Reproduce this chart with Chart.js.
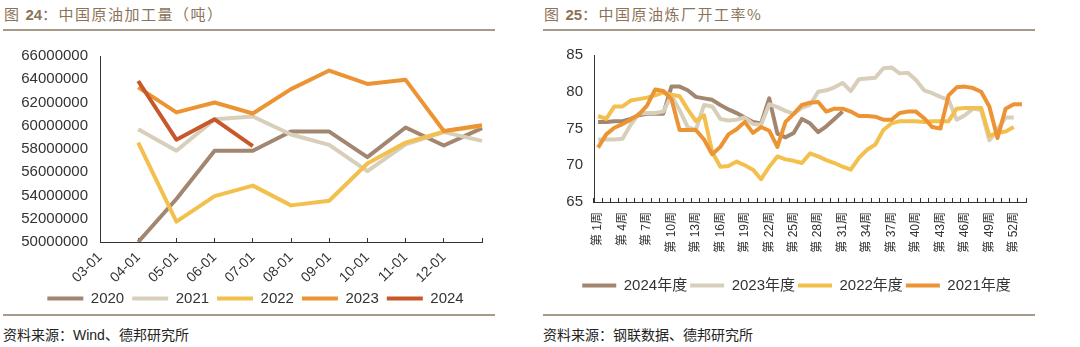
<!DOCTYPE html>
<html>
<head>
<meta charset="utf-8">
<script src="https://cdn.jsdelivr.net/npm/chart.js@4.4.1/dist/chart.umd.min.js"></script>
<style>
  body { margin: 0; background: #fff; width: 1080px; height: 347px; overflow: hidden; position: relative;
         font-family: 'Liberation Sans', 'Noto Sans CJK SC', sans-serif; }
  .title { position: absolute; top: 3px; font-size: 15px; color: #8c7358; letter-spacing: 1.5px;
           font-family: 'Noto Sans CJK SC', sans-serif; white-space: nowrap; }
  .title b { font-family: 'Liberation Sans', sans-serif; font-weight: bold; letter-spacing: 0; }
  .rule { position: absolute; height: 2px; background: #a89a8a; }
  .src { position: absolute; top: 324px; font-size: 14px; color: #222; white-space: nowrap;
         font-family: 'Liberation Sans', 'Noto Sans CJK SC', sans-serif; }
  canvas { position: absolute; }
</style>
</head>
<body>
<div class="title" style="left:4px">图 <b>24</b>：中国原油加工量（吨）</div>
<div class="rule" style="left:3px;width:492px;top:29px"></div>
<canvas id="outputChart" width="511" height="281" style="left:0;top:35px"></canvas>
<div class="rule" style="left:3px;width:492px;top:314px"></div>
<div class="src" style="left:3px">资料来源：Wind、德邦研究所</div>

<div class="title" style="left:544px">图 <b>25</b>：中国原油炼厂开工率%</div>
<div class="rule" style="left:543px;width:492px;top:29px"></div>
<canvas id="rateChart" width="513" height="268" style="left:540px;top:35px"></canvas>
<div class="rule" style="left:543px;width:492px;top:314px"></div>
<div class="src" style="left:543px">资料来源：钢联数据、德邦研究所</div>

<script>
// ── Data: crude processing volume (tonnes) ────────────────────────
const months = ['03-01', '04-01', '05-01', '06-01', '07-01', '08-01', '09-01', '10-01', '11-01', '12-01', ''];
const yearLabels = ['2020', '2021', '2022', '2023', '2024'];
const out2020 = [null, 50000000, 53700000, 57850000, 57850000, 59500000, 59500000, 57300000, 59850000, 58300000, 59800000];
const out2021 = [null, 59700000, 57850000, 60550000, 60800000, 59250000, 58350000, 56100000, 58400000, 59450000, 58700000];
const out2022 = [null, 58550000, 51750000, 53950000, 54850000, 53150000, 53550000, 56750000, 58550000, 59500000, 60000000];
const out2023 = [null, 63300000, 61150000, 62000000, 61050000, 63150000, 64750000, 63600000, 63950000, 59550000, 60050000];
const out2024 = [null, 63850000, 58800000, 60550000, 58250000];
const outColors = ['#a28670', '#d8cfba', '#f3c04e', '#ec9434', '#c8582b'];

// ── Data: refinery operating rate (%) ─────────────────────────────
const weeks = [
  '第 1周', '第 2周', '第 3周', '第 4周', '第 5周', '第 6周', '第 7周', '第 8周', '第 9周', '第 10周',
  '第 11周', '第 12周', '第 13周', '第 14周', '第 15周', '第 16周', '第 17周', '第 18周', '第 19周', '第 20周',
  '第 21周', '第 22周', '第 23周', '第 24周', '第 25周', '第 26周', '第 27周', '第 28周', '第 29周', '第 30周',
  '第 31周', '第 32周', '第 33周', '第 34周', '第 35周', '第 36周', '第 37周', '第 38周', '第 39周', '第 40周',
  '第 41周', '第 42周', '第 43周', '第 44周', '第 45周', '第 46周', '第 47周', '第 48周', '第 49周', '第 50周',
  '第 51周', '第 52周', '第 53周'
];
const rateLabels = ['2024年度', '2023年度', '2022年度', '2021年度'];
const rate2024 = [75.9, 75.9, 76.0, 76.0, 76.3, 76.8, 77.0, 77.0, 77.0, 80.7, 80.7, 80.2, 79.3, 79.1, 78.9, 78.2,
  77.6, 77.1, 76.5, 75.9, 75.7, 79.1, 74.3, 73.8, 74.4, 76.3, 75.7, 74.5, 75.3, 76.3, 77.3];
const rate2023 = [73.5, 73.5, 73.5, 73.6, 75.5, 77.0, 77.1, 77.1, 77.3, 79.5, 77.5, 75.2, 74.8, 78.2, 78.0, 76.3,
  76.1, 76.2, 76.5, 75.6, 75.5, 78.3, 77.9, 77.4, 77.0, 77.8, 78.2, 80.0, 80.2, 80.6, 81.2, 80.1,
  81.7, 81.8, 81.9, 83.2, 83.3, 82.5, 82.6, 81.6, 80.2, 79.8, 79.3, 78.9, 76.2, 76.8, 77.7, 77.5,
  73.4, 74.8, 76.5, 76.5];
const rate2022 = [76.7, 76.3, 78.0, 78.0, 78.8, 79.0, 79.2, 79.5, 79.9, 79.6, 79.4, 77.6, 76.0, 76.8, 71.8, 69.8,
  69.9, 70.5, 70.0, 69.4, 68.1, 69.8, 71.2, 70.8, 70.6, 70.3, 71.6, 71.2, 70.7, 70.3, 69.8, 69.4,
  71.0, 72.1, 72.8, 74.8, 75.7, 76.0, 76.0, 76.0, 75.9, 76.0, 76.0, 76.0, 77.7, 77.8, 77.8, 77.8,
  74.0, 74.4, 74.6, 75.2];
const rate2021 = [72.4, 74.2, 75.1, 75.6, 76.2, 76.9, 78.1, 80.3, 80.1, 79.0, 74.8, 74.8, 74.8, 73.5, 71.5, 72.5,
  74.2, 74.9, 75.9, 74.4, 75.2, 74.7, 72.5, 75.9, 77.0, 78.2, 78.5, 78.6, 77.3, 77.7, 77.7, 77.3,
  76.7, 76.7, 76.6, 76.2, 76.2, 77.1, 77.3, 77.3, 76.4, 75.2, 75.0, 79.5, 80.6, 80.7, 80.5, 80.0,
  78.0, 73.7, 77.7, 78.3, 78.3];
const rateColors = ['#a28670', '#d8cfba', '#f3c04e', '#ec9434'];

// ── Shared helpers ────────────────────────────────────────────────
const FONT = "'Liberation Sans', 'Noto Sans CJK SC', sans-serif";
const AXIS = '#333';

function lineSet(label, data, color, order) {
  return {
    label, data, order,
    borderColor: color,
    backgroundColor: color,
    borderWidth: 4,
    borderJoinStyle: 'round',
    pointRadius: 0,
    pointHoverRadius: 0,
    tension: 0,
  };
}

// later series sit on top, like the spreadsheet original
function buildSets(labels, series, colors) {
  return series.map((data, i) => lineSet(labels[i], data, colors[i], series.length - i));
}

function legendOpts(boxWidth, padding) {
  return {
    display: true,
    position: 'bottom',
    labels: {
      color: AXIS,
      font: { family: FONT, size: 15 },
      boxWidth,
      boxHeight: 4,
      padding,
      sort: (a, b) => a.datasetIndex - b.datasetIndex,
      generateLabels: (chart) => Chart.defaults.plugins.legend.labels.generateLabels(chart)
        .map(item => ({ ...item, lineWidth: 0 })),
    },
  };
}

// empty right-hand axis: only reserves room so the legend centres like the original
function spacerAxis(width) {
  return {
    position: 'right',
    display: true,
    grid: { display: false, drawTicks: false },
    border: { display: false },
    ticks: { display: false },
    afterFit: (scale) => { scale.width = width; },
  };
}

// ── Left: 中国原油加工量 ──────────────────────────────────────────
new Chart(document.getElementById('outputChart'), {
  type: 'line',
  data: {
    labels: months,
    datasets: buildSets(yearLabels, [out2020, out2021, out2022, out2023, out2024], outColors),
  },
  options: {
    responsive: false,
    animation: false,
    devicePixelRatio: 1,
    layout: { padding: { left: 0, right: 0, top: 16, bottom: 0 } },
    scales: {
      x: {
        offset: false,
        grid: { display: true, drawOnChartArea: false, drawTicks: true, tickLength: -4, color: AXIS },
        border: { display: true, color: AXIS, width: 1 },
        ticks: {
          color: AXIS, font: { family: FONT, size: 14 },
          minRotation: 45, maxRotation: 45, autoSkip: false, padding: 11,
        },
        afterFit: (scale) => { scale.height = 41; },
      },
      y: {
        min: 50000000,
        max: 66000000,
        grid: { display: false, drawTicks: false },
        border: { display: true, color: AXIS, width: 1 },
        ticks: {
          stepSize: 2000000, color: AXIS, font: { family: FONT, size: 15 }, padding: 12,
          callback: (v) => String(v),
        },
        afterFit: (scale) => { scale.width = 100; },
      },
      y2: spacerAxis(29),
    },
    plugins: {
      legend: legendOpts(36, 8),
      tooltip: { enabled: false },
    },
  },
});

// ── Right: 中国原油炼厂开工率 ─────────────────────────────────────
new Chart(document.getElementById('rateChart'), {
  type: 'line',
  data: {
    labels: weeks,
    datasets: buildSets(rateLabels, [rate2024, rate2023, rate2022, rate2021], rateColors),
  },
  options: {
    responsive: false,
    animation: false,
    devicePixelRatio: 1,
    layout: { padding: { left: 0, right: 0, top: 20, bottom: 0 } },
    scales: {
      x: {
        offset: true,
        grid: { display: true, offset: true, drawOnChartArea: false, drawTicks: true, tickLength: -4, color: AXIS },
        border: { display: true, color: AXIS, width: 1 },
        ticks: {
          color: AXIS, font: { family: FONT, size: 12 },
          minRotation: 90, maxRotation: 90, autoSkip: false, padding: 14,
          callback: (v, i) => (i % 3 === 0 ? weeks[i] : ''),
        },
        afterFit: (scale) => { scale.height = 73; },
      },
      y: {
        min: 65,
        max: 85,
        grid: { display: false, drawTicks: false },
        border: { display: true, color: AXIS, width: 1 },
        ticks: { stepSize: 5, color: AXIS, font: { family: FONT, size: 15 }, padding: 11 },
        afterFit: (scale) => { scale.width = 54; },
      },
      y2: spacerAxis(27),
    },
    plugins: {
      legend: legendOpts(34, 3),
      tooltip: { enabled: false },
    },
  },
});
</script>
</body>
</html>
